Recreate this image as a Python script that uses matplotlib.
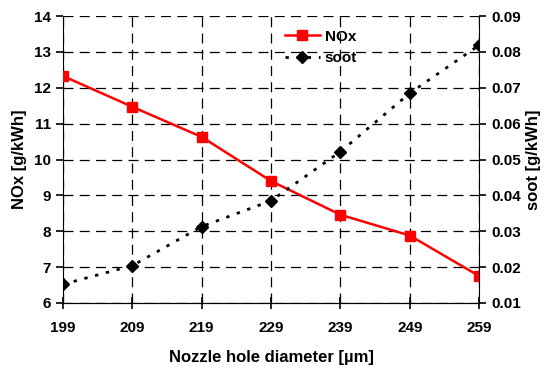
import numpy as np
import matplotlib.pyplot as plt
from matplotlib.font_manager import FontProperties

plt.rcParams['font.family'] = ['Liberation Sans', 'DejaVu Sans']

bold = FontProperties(family='Liberation Sans', weight='bold', size=11)
bold_lbl = FontProperties(family='Liberation Sans', weight='bold', size=12)

# nozzle hole diameter [um]
diameter = [199, 209, 219, 229, 239, 249, 259]
# NOx emission [g/kWh]
nox = [12.33, 11.47, 10.63, 9.40, 8.46, 7.88, 6.75]
# soot emission [g/kWh]
soot = [0.0152, 0.0204, 0.0313, 0.0385, 0.0522, 0.0685, 0.0819]

fig = plt.figure(figsize=(5.47, 3.74), dpi=100)
fig.patch.set_facecolor('white')
ax = fig.add_axes([0.115, 0.19, 0.761, 0.767])
ax2 = ax.twinx()

l1, = ax.plot(diameter, nox, color='red', lw=1.8, marker='s', ms=6.5,
              label='NOx', zorder=3)
l2, = ax2.plot(diameter, soot, color='black', lw=2, ls=(0, (1.2, 2.8)),
               marker='D', ms=6, label='soot', zorder=3)

ax.set_xlim(199, 259)
ax.set_ylim(6, 14)
ax2.set_ylim(0.01, 0.09)
ax.set_xticks(diameter)
ax.set_xticklabels([str(d) for d in diameter], fontproperties=bold)
ax.set_yticks(np.arange(6, 15, 1))
ax.set_yticklabels([str(v) for v in range(6, 15)], fontproperties=bold)
soot_ticks = np.arange(0.01, 0.091, 0.01)
ax2.set_yticks(soot_ticks)
ax2.set_yticklabels(['%.2f' % v for v in soot_ticks], fontproperties=bold)

ax.grid(True, color='black', ls=(0, (8, 5)), lw=0.9)
for a in (ax, ax2):
    a.spines['top'].set_visible(False)
    a.tick_params(width=1.2, length=5)
ax.spines['right'].set_visible(False)
ax2.spines['left'].set_visible(False)
ax.tick_params(axis='x', direction='inout', length=8, pad=9)

ax.set_xlabel('Nozzle hole diameter [µm]', fontproperties=bold_lbl, labelpad=11)
ax.set_ylabel('NOx [g/kWh]', fontproperties=bold_lbl, labelpad=5)
ax2.set_ylabel('soot [g/kWh]', fontproperties=bold_lbl, labelpad=4)

leg = ax.legend([l1, l2], ['NOx', 'soot'], loc='upper left',
                bbox_to_anchor=(0.5, 1.0), frameon=False, prop=bold,
                handlelength=2.3, handletextpad=0.3, labelspacing=0.5)
leg.set_zorder(5)

fig.savefig('out.png', dpi=100, facecolor='white')
